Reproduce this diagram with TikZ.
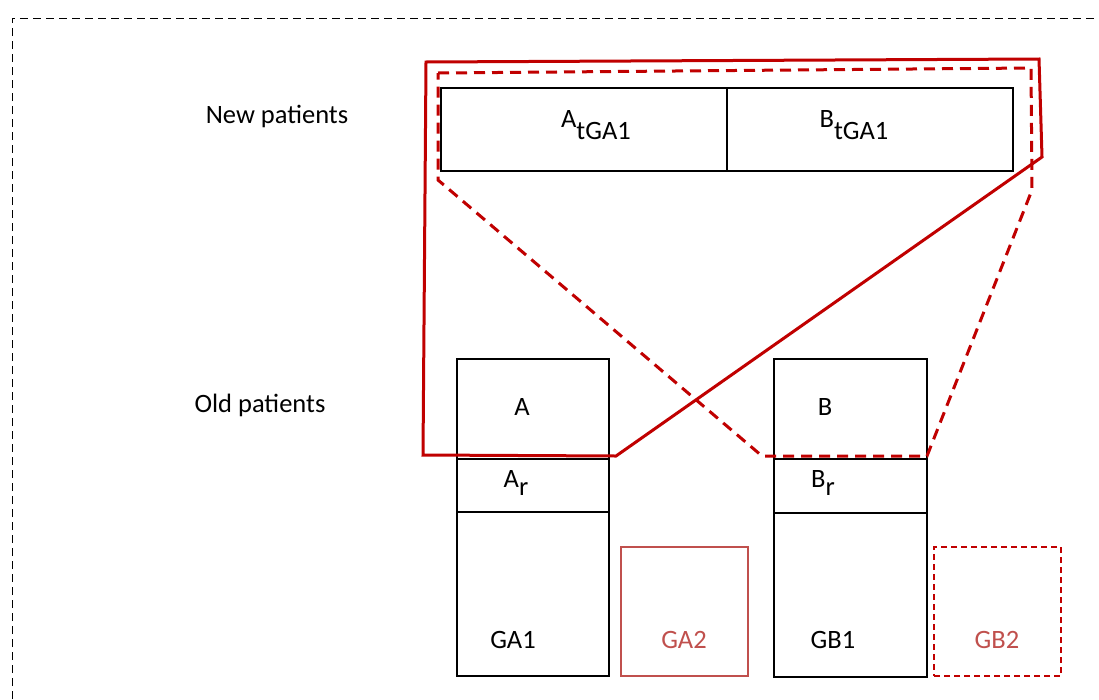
\documentclass[tikz,border=0pt]{standalone}
\usepackage{fontspec}
\setmainfont{Carlito}
\usetikzlibrary{positioning}
\definecolor{darkred}{RGB}{192,0,0}
\definecolor{softred}{RGB}{192,80,77}
\tikzset{%
  cell/.style={draw, rectangle, line width=1.5pt, inner sep=0pt, outer sep=0pt}, % boxes of patients
  txt/.style={font=\fontsize{26.5}{30}\selectfont, inner sep=0pt},
  frame/.style={line width=1pt, dash pattern=on 8pt off 5pt},
  pick/.style={darkred, line width=3pt, line join=miter},
  pickdash/.style={pick, dash pattern=on 11pt off 7pt}
}

\begin{document}
\begin{tikzpicture}[x=1pt, y=-1pt]
\useasboundingbox (0,0) rectangle (1099,699);
\draw[frame] (12,699) -- (12,18) -- (1099,18);

\node[txt] (new) at (277,116) {New patients};
\node[txt] (old) at (260,405) {Old patients};

% new patients
\node[cell, anchor=north west, minimum width=286pt, minimum height=83pt] (n0) at (441,88) {};
\node[cell, right=0pt of n0, minimum width=286pt, minimum height=83pt] (n1) {};
\node[txt] at (596,125) {A\raisebox{-0.45em}{tGA1}};
\node[txt] at (854,125) {B\raisebox{-0.45em}{tGA1}};

% old patients, group A
\node[cell, anchor=north west, minimum width=152pt, minimum height=100pt] (a0) at (457,359) {};
\node[cell, below=0pt of a0, minimum width=152pt, minimum height=53pt] (a1) {};
\node[cell, below=0pt of a1, minimum width=152pt, minimum height=164pt] (a2) {};
\node[cell, softred, anchor=north west, minimum width=127pt, minimum height=129pt] (a3) at (621,547) {};
\node[txt] at (522,407) {A};
\node[txt] at (516,483) {A\raisebox{-0.3em}{r}};
\node[txt] at (513,640) {GA1};
\node[txt, softred] at (684,640) {GA2};

% old patients, group B
\node[cell, anchor=north west, minimum width=153pt, minimum height=100pt] (b0) at (774,359) {};
\node[cell, below=0pt of b0, minimum width=153pt, minimum height=54pt] (b1) {};
\node[cell, below=0pt of b1, minimum width=153pt, minimum height=164pt] (b2) {};
\node[cell, darkred, dash pattern=on 6pt off 4pt, anchor=north west, minimum width=127pt, minimum height=129pt] (b3) at (934,547) {};
\node[txt] at (825,407) {B};
\node[txt] at (823,483) {B\raisebox{-0.3em}{r}};
\node[txt] at (833,640) {GB1};
\node[txt, softred] at (997,640) {GB2};

% selections
\draw[pick] (426,62) -- (1039,59) -- (1042,157) -- (616,456) -- (423,455) -- cycle;
\draw[pickdash] (438,73) -- (1031,68) -- (1032,190) -- (927,456) -- (762,456) -- (438,180) -- cycle;
\end{tikzpicture}
\end{document}
